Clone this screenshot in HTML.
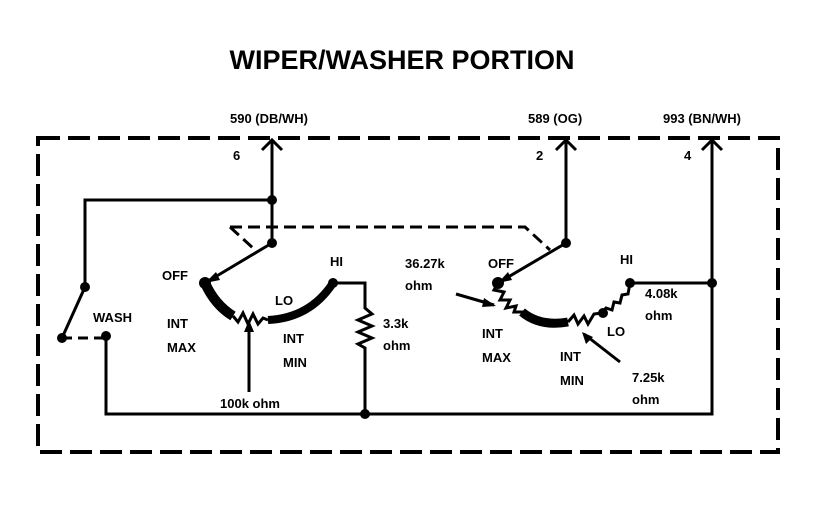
<html><body style="margin:0;background:#fff">
<svg width="826" height="512" xmlns="http://www.w3.org/2000/svg" style="font-family:'Liberation Sans',sans-serif;font-weight:bold">
<rect width="826" height="512" fill="#fff"/>
<text x="402" y="69" font-size="27" text-anchor="middle">WIPER/WASHER PORTION</text>
<g font-size="13">
<text x="230" y="123">590 (DB/WH)</text>
<text x="528" y="123">589 (OG)</text>
<text x="663" y="123">993 (BN/WH)</text>
<text x="233" y="160">6</text><text x="536" y="160">2</text><text x="684" y="160">4</text>
<text x="162" y="280">OFF</text><text x="330" y="266">HI</text><text x="275" y="305">LO</text>
<text x="93" y="322">WASH</text><text x="167" y="328">INT</text><text x="167" y="352">MAX</text>
<text x="283" y="343">INT</text><text x="283" y="367">MIN</text>
<text x="220" y="408">100k ohm</text><text x="383" y="328">3.3k</text><text x="383" y="350">ohm</text>
<text x="405" y="268">36.27k</text><text x="405" y="290">ohm</text>
<text x="488" y="268">OFF</text><text x="620" y="264">HI</text>
<text x="645" y="298">4.08k</text><text x="645" y="320">ohm</text>
<text x="607" y="336">LO</text><text x="482" y="338">INT</text><text x="482" y="362">MAX</text>
<text x="560" y="361">INT</text><text x="560" y="385">MIN</text>
<text x="632" y="382">7.25k</text><text x="632" y="404">ohm</text>
</g>
<g fill="none" stroke="#000">
<rect x="38" y="138" width="740" height="314" stroke-width="4" stroke-dasharray="22,8"/>
<path d="M230 227 H525 L550 250 M230 227 L254 249" stroke-width="3" stroke-dasharray="12,6"/>
<path d="M62 338 H106" stroke-width="3" stroke-dasharray="10,6"/>
<g stroke-width="3">
<path d="M272 140 V243 M272 200 H85 V287 L62 338 M106 336 V414 H712 V140 M365 414 V348 L358 344 L372 338 L358 332 L372 326 L358 320 L372 314 L365 308 V283 H333"/>
<path d="M262 150 L272 140 L282 150 M556 150 L566 140 L576 150 M702 150 L712 140 L722 150"/>
<path d="M566 140 V243 L498 283 M272 243 L205 283"/>
<path d="M233 316 L238 322 L243 313 L248 324 L253 314 L258 324 L263 318 L268 320"/>
<path d="M249 392 V324"/>
<path d="M498 283 L494 290 L504 292 L500 300 L510 300 L506 308 L516 306 L514 312 L524 312"/>
<path d="M568 322 L574 315 L578 324 L584 316 L588 324 L594 314 L602 313 L606 308 L612 310 L614 302 L620 303 L622 295 L628 294 L630 283 H712"/>
<path d="M456 294 L494 305 M620 362 L584 334"/>
</g>
<path d="M205 283 Q215 305 233 316" stroke-width="10"/>
<path d="M268 320 Q310 318 333 283" stroke-width="8"/>
<path d="M522 312 Q540 327 568 322" stroke-width="9"/>
</g>
<g fill="#000">
<circle cx="272" cy="200" r="5"/><circle cx="272" cy="243" r="5"/><circle cx="85" cy="287" r="5"/>
<circle cx="62" cy="338" r="5"/><circle cx="106" cy="336" r="5"/><circle cx="365" cy="414" r="5"/>
<circle cx="333" cy="283" r="5"/><circle cx="205" cy="283" r="6"/><circle cx="566" cy="243" r="5"/>
<circle cx="498" cy="283" r="6"/><circle cx="630" cy="283" r="5"/><circle cx="712" cy="283" r="5"/>
<circle cx="603" cy="313" r="5"/>
<path d="M249 320 L244 332 L254 332Z M496 306 L484 298 L482 307Z M582 332 L586 344 L593 337Z M205 283 L216 272 L220 280Z M498 283 L508 272 L512 280Z"/>
</g>
</svg>
</body></html>
